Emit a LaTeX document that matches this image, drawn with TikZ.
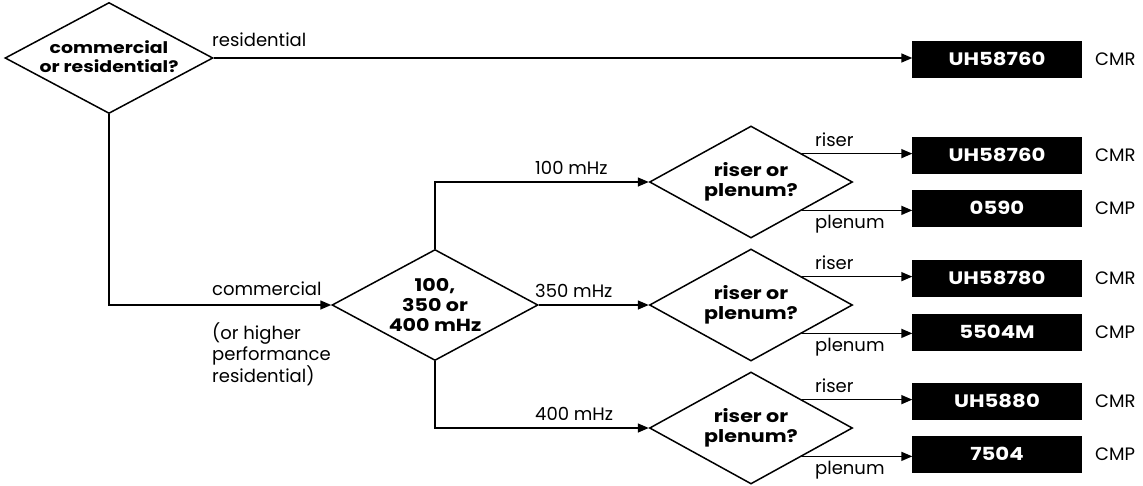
\documentclass[tikz,border=0pt]{standalone}
\usepackage{fontspec}
\setmainfont{Poppins}[BoldFeatures={FakeStretch=1.18}]
\usetikzlibrary{shapes.geometric,arrows.meta}
\tikzset{
  dec/.style={diamond, draw, line width=1.5pt, inner sep=0pt},
  dtext/.style={inner sep=0pt, align=center, font=\bfseries\fontsize{17.5}{20}\selectfont},
  prod/.style={rectangle, fill=black, draw=black, minimum width=169pt, minimum height=36pt,
    inner sep=0pt, text=white, font=\bfseries\fontsize{18}{20}\selectfont},
  lbl/.style={inner sep=0pt, font=\fontsize{18}{21}\selectfont, align=left},
  arr/.style={line width=1.5pt, -{Triangle[length=11pt,width=9pt]}},
}
\begin{document}
\begin{tikzpicture}[x=1pt,y=-1pt]
\useasboundingbox (0,0) rectangle (1143,485);
% decisions
\node[dec, minimum width=208pt, minimum height=111pt] (d1) at (109,58) {};
\node[dec, minimum width=206pt, minimum height=111pt] (d2) at (435,305) {};
\node[dec, minimum width=203pt, minimum height=112pt] (d3a) at (751,182) {};
\node[dec, minimum width=203pt, minimum height=112pt] (d3b) at (751,305) {};
\node[dec, minimum width=203pt, minimum height=112pt] (d3c) at (751,428) {};
\node[dtext, font=\bfseries\fontsize{16}{19}\selectfont] (t1) at (109,57) {commercial\\or residential?};
\node[dtext] (t2) at (d2) {100,\\350 or\\400 mHz};
\node[dtext] (t3a) at (d3a) {riser or\\plenum?};
\node[dtext] (t3b) at (d3b) {riser or\\plenum?};
\node[dtext] (t3c) at (d3c) {riser or\\plenum?};
% products
\node[prod] (b0) at (997,59) {UH58760};
\node[prod] (b1) at (997,155) {UH58760};
\node[prod] (b2) at (997,208) {0590};
\node[prod] (b3) at (997,278) {UH58780};
\node[prod] (b4) at (997,332) {5504M};
\node[prod] (b5) at (997,401) {UH5880};
\node[prod] (b6) at (997,454) {7504};
% ratings
\node[lbl, anchor=west] (r0) at (1095,59) {CMR};
\node[lbl, anchor=west] (r1) at (1095,155) {CMR};
\node[lbl, anchor=west] (r2) at (1095,208) {CMP};
\node[lbl, anchor=west] (r3) at (1095,278) {CMR};
\node[lbl, anchor=west] (r4) at (1095,332) {CMP};
\node[lbl, anchor=west] (r5) at (1095,401) {CMR};
\node[lbl, anchor=west] (r6) at (1095,454) {CMP};
% connectors
\draw[arr] (d1.east) -- (d1.east -| b0.west);
\draw[arr] (d1.south) |- (d2.west);
\draw[arr] (d2.north) |- (d3a.west);
\draw[arr] (d2.east) -- (d3b.west);
\draw[arr] (d2.south) |- (d3c.west);
\foreach \d/\r/\p in {d3a/b1/b2, d3b/b3/b4, d3c/b5/b6}{
  \draw[arr] (\d.north east) -- (\d.north east -| \r.west);
  \draw[arr] (\d.south east) -- (\d.south east -| \p.west);
  \path (\d.north east) ++(0,-7) coordinate (tmp) (tmp -| 815,0) node[lbl, anchor=base west] {riser};
  \path (\d.south east) ++(0,18) coordinate (tmp) (tmp -| 815,0) node[lbl, anchor=base west] {plenum};
}
% branch labels
\node[lbl, anchor=base west] (lres) at (212,46) {residential};
\node[lbl, anchor=base west] (lcom) at (212,295) {commercial};
\node[lbl, anchor=north west] (lhigh) at (212,322) {(or higher\\performance\\residential)};
\node[lbl, anchor=base west] (l100) at (535,174) {100 mHz};
\node[lbl, anchor=base west] (l350) at (535,297) {350 mHz};
\node[lbl, anchor=base west] (l400) at (535,420) {400 mHz};
\end{tikzpicture}
\end{document}
